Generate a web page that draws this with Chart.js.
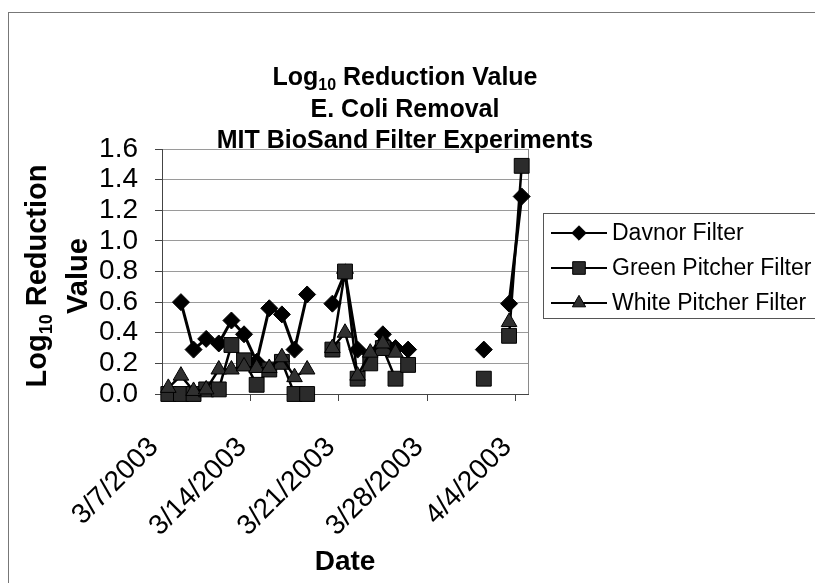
<!DOCTYPE html>
<html><head><meta charset="utf-8">
<script src="https://cdn.jsdelivr.net/npm/chart.js@4.4.1/dist/chart.umd.min.js"></script>
<style>html,body{margin:0;padding:0;background:#fff;overflow:hidden}canvas{display:block}</style>
</head><body>
<canvas id="c" width="815" height="583"></canvas>
<script>
// ---- data ----
const dates = ['3/7/2003','3/8/2003','3/9/2003','3/10/2003','3/11/2003','3/12/2003','3/13/2003','3/14/2003','3/15/2003','3/16/2003','3/17/2003','3/18/2003','3/19/2003','3/20/2003','3/21/2003','3/22/2003','3/23/2003','3/24/2003','3/25/2003','3/26/2003','3/27/2003','3/28/2003','3/29/2003','3/30/2003','3/31/2003','4/1/2003','4/2/2003','4/3/2003','4/4/2003'];
const davnor       = [null,0.60,0.29,0.36,0.33,0.48,0.39,0.21,0.56,0.52,0.29,0.65,null,0.59,0.79,0.29,0.26,0.39,0.30,0.29,null,null,null,null,null,0.29,null,0.59,1.29];
const greenPitcher = [0.00,0.00,0.00,0.03,0.03,0.32,0.22,0.06,0.16,0.21,0.00,0.00,null,0.29,0.80,0.10,0.20,0.30,0.10,0.19,null,null,null,null,null,0.10,null,0.38,1.49];
const whitePitcher = [0.04,0.12,0.02,0.03,0.16,0.16,0.18,0.17,0.17,0.24,0.11,0.16,null,0.30,0.40,0.12,0.27,0.33,0.27,null,null,null,null,null,null,null,null,0.47,null];
const seriesNames = ['Davnor Filter','Green Pitcher Filter','White Pitcher Filter'];
const xTickLabels = ['3/7/2003','3/14/2003','3/21/2003','3/28/2003','4/4/2003'];
const yTickValues = [0,0.2,0.4,0.6,0.8,1.0,1.2,1.4,1.6];
const titleLines = [['Log','10',' Reduction Value'],['E. Coli Removal'],['MIT BioSand Filter Experiments']];
const yTitleLines = [['Log','10',' Reduction'],['Value']];
const xTitle = 'Date';

// ---- helpers ----
function dayIndex(s){const [m,d,y]=s.split('/').map(Number);return Math.round((Date.UTC(y,m-1,d)-Date.UTC(2003,2,7))/86400000);}
function pts(vals){return dates.map((d,i)=>({x:dayIndex(d),y:vals[i]}));}
const FONT='"Liberation Sans", Arial, Helvetica, sans-serif';
const styles=[
  {pointStyle:'rectRot',radius:8.5,bg:'#000'},
  {pointStyle:'rect',radius:10.5,bg:'#2b2b2b'},
  {pointStyle:'triangle',radius:9,bg:'#303030'}
];
function richWidth(ctx,parts,size){let w=0;parts.forEach((p,i)=>{ctx.font=`bold ${i%2?Math.round(size*0.62):size}px ${FONT}`;w+=ctx.measureText(p).width;});return w;}
function drawRich(ctx,parts,cx,cy,size){
  const w=richWidth(ctx,parts,size);let x=cx-w/2;
  ctx.textBaseline='middle';ctx.textAlign='left';
  parts.forEach((p,i)=>{const sub=i%2===1;ctx.font=`bold ${sub?Math.round(size*0.62):size}px ${FONT}`;ctx.fillText(p,x,cy+(sub?size*0.3:0));x+=ctx.measureText(p).width;});
}

const decor={
  id:'decor',
  beforeDatasetsDraw(chart){
    const {ctx,chartArea:a}=chart;ctx.save();
    ctx.strokeStyle='#8a8a8a';ctx.lineWidth=1;
    ctx.beginPath();ctx.moveTo(Math.round(a.right)+0.5,a.top);ctx.lineTo(Math.round(a.right)+0.5,a.bottom);ctx.stroke();
    ctx.restore();
  },
  afterDraw(chart){
    const ctx=chart.ctx;ctx.save();
    ctx.strokeStyle='#777';ctx.lineWidth=1;ctx.strokeRect(8.5,12.5,900,700);
    ctx.fillStyle='#000';
    const ty=[78,110,141];
    titleLines.forEach((l,i)=>drawRich(ctx,l,405,ty[i],25));
    const yx=[38,79];
    yTitleLines.forEach((l,i)=>{ctx.save();ctx.translate(yx[i],276);ctx.rotate(-Math.PI/2);drawRich(ctx,l,0,0,29);ctx.restore();});
    drawRich(ctx,[xTitle],345,562,28);
    // legend
    ctx.strokeStyle='#555';ctx.lineWidth=1;ctx.strokeRect(543.5,213.5,300,105);
    seriesNames.forEach((n,i)=>{
      const y=233+35*i;
      ctx.strokeStyle='#000';ctx.lineWidth=2;ctx.beginPath();ctx.moveTo(551,y);ctx.lineTo(607,y);ctx.stroke();
      ctx.fillStyle=styles[i].bg;ctx.strokeStyle='#000';ctx.lineWidth=1;
      Chart.helpers.drawPoint(ctx,{pointStyle:styles[i].pointStyle,radius:styles[i].radius*0.85,borderWidth:1,rotation:0},579,y);
      ctx.fillStyle='#000';ctx.font=`23px ${FONT}`;ctx.textAlign='left';ctx.textBaseline='middle';ctx.fillText(n,612,y+1);
    });
    ctx.restore();
  }
};

const seriesVals=[davnor,greenPitcher,whitePitcher];
new Chart(document.getElementById('c'),{
  type:'line',
  data:{datasets:seriesVals.map((v,i)=>({
    label:seriesNames[i],data:pts(v),
    borderColor:'#000',borderWidth:i===0?3:2.5,
    pointStyle:styles[i].pointStyle,pointRadius:styles[i].radius,pointBackgroundColor:styles[i].bg,
    pointBorderColor:'#000',pointBorderWidth:1,spanGaps:false,tension:0,clip:false,
    order:2-i
  }))},
  options:{
    responsive:false,animation:false,devicePixelRatio:1,
    layout:{padding:{left:0,top:149,right:287,bottom:0}},
    plugins:{legend:{display:false},tooltip:{enabled:false},title:{display:false}},
    scales:{
      x:{type:'linear',min:-0.5,max:28.5,
        afterBuildTicks(s){s.ticks=xTickLabels.map(l=>({value:dayIndex(l)-0.5}));},
        afterFit(s){s.height=189;},
        ticks:{autoSkip:false,maxRotation:45,minRotation:45,padding:30,labelOffset:-8,color:'#000',font:{family:FONT,size:28},
          callback(v){const i=xTickLabels.findIndex(l=>dayIndex(l)-0.5===v);return i>=0?xTickLabels[i]:'';}},
        grid:{drawOnChartArea:false,drawTicks:true,tickLength:7,tickColor:'#444'},
        border:{color:'#444',width:1}
      },
      y:{min:0,max:1.6,
        afterBuildTicks(s){s.ticks=yTickValues.map(v=>({value:v}));},
        afterFit(s){s.width=162;},
        ticks:{autoSkip:false,color:'#000',padding:17,font:{family:FONT,size:28},callback(v){return Number(v).toFixed(1);}},
        grid:{color:'#9a9a9a',tickColor:'#444',tickLength:7,drawTicks:true},
        border:{color:'#444',width:1}
      }
    }
  },
  plugins:[decor]
});
</script>
</body></html>
